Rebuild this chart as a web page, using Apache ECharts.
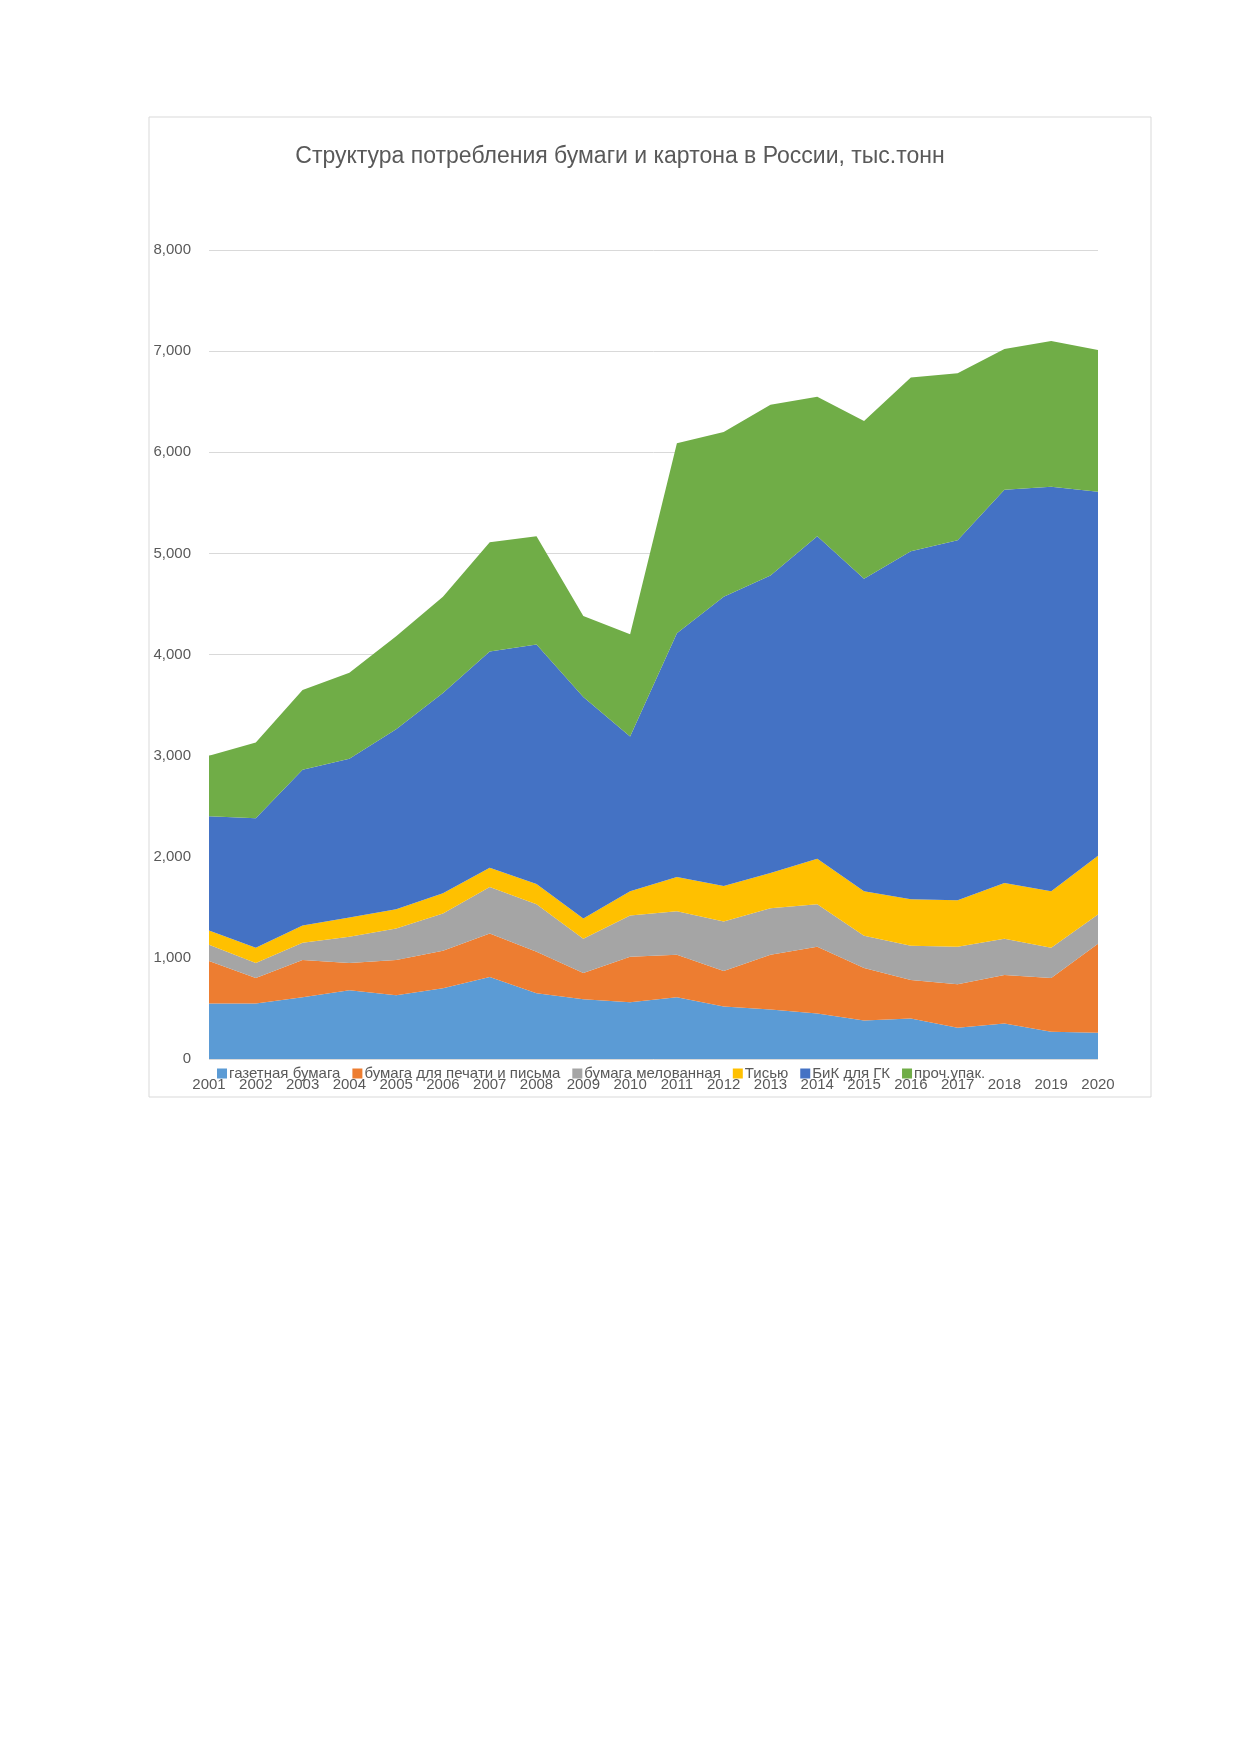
<!DOCTYPE html>
<html>
<head>
<meta charset="utf-8">
<script src="https://cdn.jsdelivr.net/npm/echarts@6/dist/echarts.min.js"></script>
<style>
  html, body { margin: 0; padding: 0; background: #fff; }
  #chart { width: 1240px; height: 1754px; }
</style>
</head>
<body>
<div id="chart"></div>
<script>
var years = ['2001', '2002', '2003', '2004', '2005', '2006', '2007', '2008', '2009', '2010',
	'2011', '2012', '2013', '2014', '2015', '2016', '2017', '2018', '2019', '2020'];
var newsprint = [550, 550, 610, 680, 630, 700, 810, 650, 590, 560, 610, 520, 490, 450, 380, 400, 310, 350, 270, 260];
var printing = [420, 250, 370, 270, 350, 370, 430, 410, 260, 450, 420, 350, 540, 660, 520, 380, 430, 480, 530, 880];
var coated = [160, 150, 170, 260, 310, 370, 460, 470, 340, 410, 430, 490, 460, 420, 320, 340, 370, 360, 300, 290];
var tissue = [140, 150, 170, 190, 190, 200, 190, 200, 200, 240, 340, 350, 350, 450, 440, 460, 460, 550, 560, 580];
var board = [1130, 1280, 1540, 1570, 1780, 1980, 2140, 2370, 2190, 1530, 2410, 2860, 2940, 3190, 3090, 3440, 3560, 3890, 4000, 3600];
var otherPack = [600, 750, 790, 850, 920, 950, 1080, 1070, 800, 1010, 1880, 1630, 1690, 1380, 1560, 1720, 1650, 1390, 1440, 1400];

var seriesDefs = [
	['газетная бумага', newsprint, '#5b9bd5'],
	['бумага для печати и письма', printing, '#ed7d31'],
	['бумага мелованная', coated, '#a5a5a5'],
	['Тисью', tissue, '#ffc000'],
	['БиК для ГК', board, '#4472c4'],
	['проч.упак.', otherPack, '#70ad47']
];

var chart = echarts.init(document.getElementById('chart'));
chart.setOption({
	backgroundColor: '#fff',
	animation: false,
	color: seriesDefs.map(function(s) { return s[2]; }),
	textStyle: { fontFamily: 'Liberation Sans, Arial, sans-serif' },
	graphic: [{
		type: 'rect',
		shape: { x: 149, y: 117, width: 1002, height: 980 },
		style: { fill: 'none', stroke: '#d9d9d9', lineWidth: 1 },
		silent: true
	}],
	title: {
		text: 'Структура потребления бумаги и картона в России, тыс.тонн',
		left: 'center',
		top: 140,
		textStyle: { fontSize: 23, fontWeight: 'normal', color: '#595959' }
	},
	legend: {
		top: 1061,
		left: 212,
		itemWidth: 10,
		itemHeight: 10,
		itemGap: 12,
		icon: 'rect',
		textStyle: { fontSize: 15, color: '#595959', padding: [0, 0, 0, -3] }
	},
	grid: { left: 209, right: 142, top: 250, bottom: 695, containLabel: false },
	xAxis: {
		type: 'category',
		data: years,
		boundaryGap: false,
		axisLine: { show: false },
		axisTick: { show: false },
		axisLabel: { color: '#595959', fontSize: 15, margin: 18, interval: 0 }
	},
	yAxis: {
		type: 'value',
		min: 0,
		max: 8000,
		interval: 1000,
		axisLine: { show: false },
		axisTick: { show: false },
		axisLabel: { color: '#595959', fontSize: 15, margin: 18 },
		splitLine: { lineStyle: { color: '#d9d9d9' } }
	},
	series: seriesDefs.map(function(s) {
		return {
			name: s[0],
			type: 'line',
			stack: 'total',
			data: s[1],
			symbol: 'none',
			lineStyle: { width: 0 },
			areaStyle: { color: s[2], opacity: 1 }
		};
	})
});
</script>
</body>
</html>
